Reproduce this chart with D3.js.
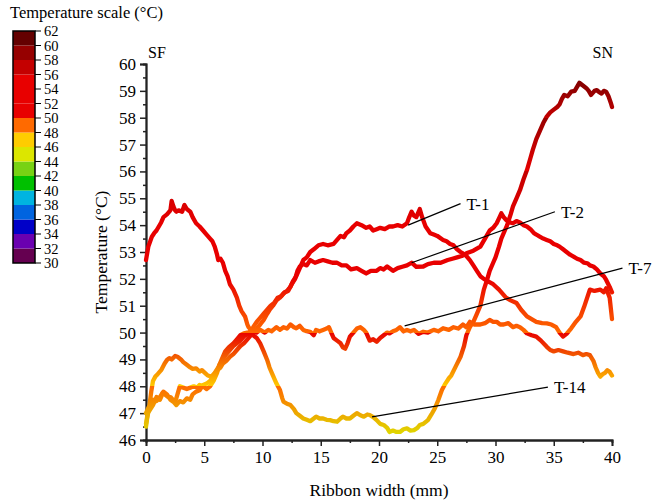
<!DOCTYPE html>
<html><head><meta charset="utf-8">
<script src="https://cdn.jsdelivr.net/npm/d3@7"></script>
<style>
body{margin:0;background:#fff;}
svg{display:block;}
svg text{font-family:"Liberation Serif","Times New Roman","DejaVu Serif",serif;}
</style></head>
<body><svg id="c" width="655" height="500"></svg>
<script>
// ---- data ----
const bandEdges = [30,32,34,36,38,40,42,44,46,48,50,52,54,56,58,60,62];
const bandColors = ["#650050","#6a00b0","#0000c8","#0064e0","#00b4e0","#00c000","#78d214","#dce600","#ffcc00","#ff6a00","#e80000","#e80000","#e80000","#c40000","#960000","#640000"];
const legendTicks = [30,32,34,36,38,40,42,44,46,48,50,52,54,56,58,60,62];
const yTicks = [46,47,48,49,50,51,52,53,54,55,56,57,58,59,60];
const xTicks = [0,5,10,15,20,25,30,35,40];

const t1 = [[0,46.6],[0.15,47.0],[0.3,47.1],[0.6,47.3],[0.9,47.6],[1.2,47.5],[1.5,47.8],[1.8,47.7],[2.1,47.5],[2.4,47.4],[2.6,47.3],[2.9,47.45],[3.2,47.4],[3.5,47.55],[3.8,47.5],[4.0,47.7],[4.3,47.8],[4.6,47.85],[4.9,48.05],[5.2,48.1],[5.5,48.2],[5.8,48.4],[6.1,48.6],[6.4,48.7],[6.6,48.85],[6.9,48.95],[7.2,49.1],[7.5,49.2],[7.8,49.35],[8.1,49.5],[8.4,49.6],[8.7,49.75],[8.9,49.85],[9.2,50.0],[9.5,50.15],[9.8,50.3],[10.1,50.47],[10.4,50.7],[10.6,50.84],[10.9,51.0],[11.2,51.2],[11.5,51.3],[11.8,51.46],[12.1,51.55],[12.4,51.7],[12.6,51.9],[12.9,52.1],[13.2,52.4],[13.5,52.7],[13.8,52.8],[14.1,53.0],[14.4,53.1],[14.8,53.25],[15.2,53.3],[15.6,53.25],[16.1,53.3],[16.4,53.45],[16.7,53.6],[17.0,53.55],[17.2,53.7],[17.5,53.8],[17.8,53.95],[18.1,54.07],[18.5,54.0],[18.9,53.9],[19.2,53.95],[19.5,53.8],[19.8,53.85],[20.1,53.9],[20.5,53.85],[20.9,53.95],[21.2,53.95],[21.6,54.0],[22.0,53.95],[22.4,54.07],[22.6,54.3],[22.8,54.5],[23.0,54.35],[23.2,54.3],[23.5,54.6],[23.7,54.3],[24.0,53.95],[24.4,53.7],[24.7,53.65],[25.0,53.6],[25.5,53.45],[25.8,53.4],[26.1,53.3],[26.4,53.25],[26.7,53.1],[27.0,53.0],[27.2,52.95],[27.5,52.85],[27.8,52.7],[28.1,52.5],[28.4,52.3],[28.7,52.1],[29.0,52.0],[29.4,51.9],[29.8,51.8],[30.3,51.6],[30.9,51.3],[31.3,51.2],[31.8,51.1],[32.2,50.85],[32.7,50.6],[33.1,50.5],[33.5,50.4],[34.0,50.35],[34.4,50.34],[34.8,50.3],[35.2,50.2],[35.5,50.0],[35.8,49.85],[36.1,49.95],[36.5,50.16],[36.9,50.4],[37.3,50.6],[37.6,50.95],[38.1,51.6],[38.5,51.55],[39.0,51.6],[39.3,51.5],[39.5,51.65],[39.8,51.3],[40,50.5]];

const t2 = [[0,47.0],[0.2,47.2],[0.4,47.35],[0.6,47.5],[0.9,47.45],[1.2,47.6],[1.4,47.75],[1.6,47.7],[1.9,47.6],[2.1,47.6],[2.3,47.5],[2.5,47.4],[2.7,47.7],[2.9,48.0],[3.2,47.95],[3.5,47.9],[3.8,47.95],[4.1,48.0],[4.4,47.95],[4.6,48.05],[4.9,48.0],[5.2,47.9],[5.5,48.0],[5.8,48.2],[6.1,48.5],[6.3,48.8],[6.6,49.0],[6.9,49.2],[7.2,49.35],[7.5,49.5],[7.8,49.6],[8.1,49.7],[8.4,49.85],[8.7,49.95],[8.9,50.03],[9.2,50.2],[9.5,50.4],[9.8,50.55],[10.1,50.7],[10.4,50.85],[10.7,51.0],[11.0,51.1],[11.3,51.3],[11.6,51.35],[11.9,51.5],[12.2,51.55],[12.5,51.8],[12.8,52.0],[13.0,52.3],[13.2,52.46],[13.5,52.55],[13.8,52.5],[14.1,52.7],[14.5,52.6],[14.8,52.65],[15.2,52.7],[15.6,52.65],[16.0,52.6],[16.4,52.6],[16.8,52.5],[17.2,52.5],[17.6,52.35],[18.1,52.4],[18.5,52.3],[18.9,52.2],[19.3,52.3],[19.8,52.3],[20.1,52.4],[20.4,52.35],[20.7,52.46],[21.2,52.3],[21.6,52.4],[22.0,52.45],[22.4,52.5],[22.8,52.6],[23.2,52.45],[23.8,52.46],[24.2,52.55],[24.7,52.6],[25.3,52.6],[25.9,52.7],[26.3,52.75],[26.7,52.8],[27.1,52.85],[27.5,52.95],[28.1,53.05],[28.7,53.2],[29.1,53.5],[29.5,53.8],[29.8,53.9],[30.1,54.07],[30.3,54.25],[30.5,54.44],[30.7,54.3],[30.9,54.2],[31.2,54.1],[31.5,54.07],[31.8,54.15],[32.1,54.1],[32.4,54.0],[32.7,53.95],[33.0,53.85],[33.3,53.7],[33.5,53.65],[33.8,53.57],[34.1,53.5],[34.4,53.45],[34.7,53.4],[35.0,53.3],[35.3,53.25],[35.5,53.2],[35.8,53.1],[36.1,53.0],[36.4,52.9],[36.7,52.83],[37.0,52.75],[37.3,52.7],[37.6,52.6],[37.9,52.58],[38.1,52.5],[38.4,52.46],[38.7,52.35],[39.0,52.2],[39.3,52.1],[39.5,51.96],[39.8,51.7],[40,51.5]];

const t7 = [[0,52.7],[0.2,53.2],[0.5,53.57],[0.7,53.7],[0.9,53.8],[1.1,53.95],[1.3,54.1],[1.5,54.3],[1.8,54.4],[2.0,54.5],[2.1,54.56],[2.2,54.9],[2.35,54.7],[2.5,54.55],[2.6,54.5],[2.8,54.55],[3.1,54.5],[3.3,54.75],[3.5,54.6],[3.8,54.5],[4.0,54.3],[4.3,54.07],[4.6,53.95],[4.9,53.8],[5.2,53.65],[5.5,53.5],[5.7,53.4],[5.9,53.2],[6.1,52.9],[6.2,52.7],[6.4,52.75],[6.6,52.6],[6.8,52.3],[7.0,52.1],[7.2,51.8],[7.5,51.6],[7.8,51.3],[8.0,51.0],[8.2,50.8],[8.5,50.6],[8.7,50.3],[8.8,50.2],[9.0,50.1],[9.2,50.15],[9.5,50.0],[9.8,50.1],[10.2,50.0],[10.5,50.1],[10.8,50.05],[11.2,50.2],[11.5,50.1],[11.8,50.2],[12.1,50.15],[12.4,50.3],[12.7,50.2],[12.9,50.16],[13.2,50.25],[13.5,50.1],[13.8,50.05],[14.1,50.03],[14.4,49.9],[14.6,50.1],[14.9,50.05],[15.2,50.1],[15.5,50.15],[15.7,50.2],[15.9,50.0],[16.1,49.8],[16.4,49.7],[16.7,49.6],[16.9,49.45],[17.1,49.4],[17.3,49.6],[17.5,49.85],[17.8,50.0],[18.1,50.15],[18.4,50.2],[18.7,50.1],[18.9,50.0],[19.2,49.7],[19.5,49.75],[19.8,49.66],[20.1,49.8],[20.4,49.9],[20.7,50.0],[20.9,49.97],[21.2,50.05],[21.5,50.1],[21.8,50.2],[22.1,50.05],[22.4,50.1],[22.7,50.05],[23.0,50.1],[23.4,49.95],[23.8,50.03],[24.2,50.0],[24.7,50.1],[25.1,50.05],[25.5,50.16],[26.0,50.1],[26.4,50.2],[26.8,50.15],[27.2,50.3],[27.5,50.2],[27.8,50.4],[28.2,50.3],[28.7,50.3],[29.1,50.35],[29.5,50.47],[29.8,50.4],[30.1,50.4],[30.4,50.3],[30.7,50.3],[31.1,50.35],[31.5,50.2],[31.8,50.25],[32.1,50.2],[32.4,50.1],[32.7,49.97],[33.1,49.9],[33.5,49.85],[33.9,49.7],[34.4,49.47],[34.7,49.35],[35.0,49.3],[35.4,49.35],[35.8,49.3],[36.2,49.25],[36.7,49.2],[37.1,49.25],[37.5,49.16],[37.8,49.2],[38.1,49.16],[38.4,48.95],[38.6,48.7],[38.8,48.5],[39.0,48.36],[39.2,48.45],[39.4,48.5],[39.6,48.6],[39.8,48.54],[40,48.4]];

const t14 = [[0,46.5],[0.1,46.8],[0.3,47.3],[0.45,47.8],[0.6,48.2],[0.8,48.36],[1.0,48.45],[1.3,48.6],[1.6,48.85],[1.8,48.98],[2.0,49.05],[2.2,49.0],[2.5,49.13],[2.7,49.1],[3.0,49.0],[3.2,48.9],[3.5,48.8],[3.8,48.7],[4.0,48.65],[4.3,48.67],[4.6,48.55],[4.8,48.6],[5.1,48.48],[5.3,48.4],[5.6,48.36],[5.9,48.5],[6.2,48.7],[6.5,49.0],[6.8,49.3],[7.1,49.45],[7.5,49.6],[7.8,49.75],[8.1,49.9],[8.4,49.97],[8.7,50.0],[8.9,49.95],[9.2,49.9],[9.5,49.8],[9.8,49.6],[10.1,49.3],[10.4,48.98],[10.6,48.7],[10.9,48.4],[11.2,48.1],[11.5,47.86],[11.7,47.55],[11.8,47.43],[12.1,47.35],[12.4,47.3],[12.7,47.15],[12.9,47.0],[13.2,46.9],[13.5,46.8],[13.8,46.75],[14.1,46.7],[14.4,46.8],[14.6,46.87],[14.9,46.8],[15.2,46.8],[15.5,46.75],[15.8,46.74],[16.1,46.7],[16.4,46.68],[16.7,46.8],[16.9,46.87],[17.2,46.8],[17.5,46.8],[17.8,46.9],[18.1,47.0],[18.4,46.92],[18.7,46.87],[19.0,46.95],[19.2,46.93],[19.5,46.85],[19.8,46.74],[20.1,46.6],[20.4,46.56],[20.7,46.45],[20.9,46.3],[21.2,46.35],[21.5,46.3],[21.8,46.3],[22.1,46.4],[22.4,46.43],[22.7,46.35],[23.0,46.37],[23.3,46.45],[23.5,46.56],[23.8,46.6],[24.2,46.74],[24.5,46.95],[24.8,47.18],[25.1,47.5],[25.4,47.86],[25.7,48.1],[26.0,48.3],[26.2,48.4],[26.6,48.75],[27.0,49.1],[27.3,49.5],[27.5,49.9],[27.8,50.2],[28.1,50.4],[28.4,50.7],[28.7,51.0],[29.0,51.6],[29.3,52.0],[29.5,52.3],[29.8,52.6],[30.0,52.8],[30.3,53.2],[30.5,53.5],[30.8,53.8],[31.0,54.0],[31.3,54.4],[31.5,54.7],[31.8,55.0],[32.1,55.3],[32.4,55.7],[32.7,56.05],[33.0,56.5],[33.2,56.8],[33.5,57.2],[33.8,57.5],[34.1,57.8],[34.4,58.04],[34.7,58.2],[35.0,58.3],[35.3,58.4],[35.5,58.5],[35.7,58.7],[35.9,58.85],[36.2,58.8],[36.5,58.97],[36.8,59.0],[37.0,59.15],[37.2,59.3],[37.5,59.2],[37.8,59.1],[38.0,59.0],[38.2,58.85],[38.5,59.0],[38.7,59.03],[38.9,58.95],[39.1,58.9],[39.3,59.0],[39.5,58.97],[39.7,58.8],[39.9,58.55],[40,58.4]];

const seriesNames = ["T-1","T-2","T-7","T-14"];
// annotation pointer: [x0,y0] on curve -> [x1,y1] label end (data units)
const pointers = [
  [[22.5,54.0],[27.0,54.8]],
  [[22.8,52.6],[35.1,54.5]],
  [[22.2,50.25],[40.9,52.4]],
  [[19.4,46.86],[34.5,47.97]]
];

// ---- chart ----
const FONT = "Liberation Serif, Times New Roman, DejaVu Serif, serif";
const svg = d3.select("#c");
const x = d3.scaleLinear().domain([0,40]).range([146,612]);
const y = d3.scaleLinear().domain([46,60]).range([440,64]);
const ly = d3.scaleLinear().domain([30,62]).range([263,31]);

// vertical gradient mapping temperature bands to colors
const defs = svg.append("defs");
const grad = defs.append("linearGradient").attr("id","tg")
  .attr("gradientUnits","userSpaceOnUse")
  .attr("x1",0).attr("x2",0).attr("y1",y(62)).attr("y2",y(30));
const stopData = [];
bandColors.forEach((c,i)=>{
  stopData.push({o:(62-bandEdges[i+1])/32, c});
  stopData.push({o:(62-bandEdges[i])/32, c});
});
stopData.sort((a,b)=>a.o-b.o);
grad.selectAll("stop").data(stopData).join("stop")
  .attr("offset",d=>d.o).attr("stop-color",d=>d.c);

// legend
svg.append("text").attr("x",10).attr("y",18).attr("font-size",16.5).attr("font-family",FONT).text("Temperature scale (°C)");
const lg = svg.append("g");
lg.selectAll("rect.band").data(bandColors).join("rect")
  .attr("x",13).attr("width",22)
  .attr("y",(d,i)=>ly(bandEdges[i+1]))
  .attr("height",(d,i)=>ly(bandEdges[i])-ly(bandEdges[i+1]))
  .attr("fill",d=>d);
lg.append("rect").attr("x",13).attr("y",ly(62)).attr("width",22).attr("height",ly(30)-ly(62))
  .attr("fill","none").attr("stroke","#000").attr("stroke-width",1.5);
lg.selectAll("line.lt").data(legendTicks).join("line")
  .attr("x1",35).attr("x2",41).attr("y1",d=>ly(d)).attr("y2",d=>ly(d)).attr("stroke","#000").attr("stroke-width",1);
lg.selectAll("text.lt").data(legendTicks).join("text")
  .attr("x",44).attr("y",d=>ly(d)).attr("dy","0.35em").attr("font-size",14.5).attr("font-family",FONT).text(d=>d);

// axes
const yAxis = d3.axisLeft(y).tickValues(yTicks).tickSize(6).tickPadding(4).tickFormat(d3.format("d"));
const yMinor = d3.axisLeft(y).tickValues(d3.range(46.5,60,1)).tickSize(3).tickFormat("");
const xAxis = d3.axisBottom(x).tickValues(xTicks).tickSize(6).tickPadding(5).tickFormat(d3.format("d"));
const xMinor = d3.axisBottom(x).tickValues(d3.range(2.5,40,5)).tickSize(3).tickFormat("");

function style(g){
  g.attr("font-family",FONT);
  g.select(".domain").attr("stroke","#222").attr("stroke-width",1.8);
  g.selectAll(".tick line").attr("stroke","#222").attr("stroke-width",1.5);
  g.selectAll(".tick text").attr("font-size",17).attr("fill","#000").attr("font-family",FONT);
}
svg.append("g").attr("transform","translate(146,0)").call(yMinor).call(style);
svg.append("g").attr("transform","translate(146,0)").call(yAxis).call(style);
svg.append("g").attr("transform","translate(0,440)").call(xMinor).call(style);
svg.append("g").attr("transform","translate(0,440)").call(xAxis).call(style);

svg.append("text").attr("transform","translate(107,252) rotate(-90)").attr("text-anchor","middle")
  .attr("font-size",17.5).attr("font-family",FONT).text("Temperature (°C)");
svg.append("text").attr("x",379).attr("y",496).attr("text-anchor","middle").attr("font-size",17.5).attr("font-family",FONT).text("Ribbon width (mm)");

svg.append("text").attr("x",x(0)+2).attr("y",y(60)-6).attr("font-size",16).attr("font-family",FONT).text("SF");
svg.append("text").attr("x",x(40)+1).attr("y",y(60)-6).attr("text-anchor","end").attr("font-size",16).attr("font-family",FONT).text("SN");

// series
const line = d3.line().x(d=>x(d[0])).y(d=>y(d[1]));
const allSeries = [t1,t2,t7,t14];
svg.append("g").selectAll("path").data(allSeries).join("path")
  .attr("d",line).attr("fill","none").attr("stroke","url(#tg)")
  .attr("stroke-width",4.3).attr("stroke-linejoin","round").attr("stroke-linecap","round");

// annotations
const ann = svg.append("g");
pointers.forEach((p,i)=>{
  ann.append("line").attr("x1",x(p[0][0])).attr("y1",y(p[0][1])).attr("x2",x(p[1][0])).attr("y2",y(p[1][1]))
    .attr("stroke","#000").attr("stroke-width",1.2);
  ann.append("text").attr("x",x(p[1][0])+6).attr("y",y(p[1][1])).attr("dy","0.35em")
    .attr("font-size",17).attr("font-family",FONT).text(seriesNames[i]);
});
</script></body></html>
